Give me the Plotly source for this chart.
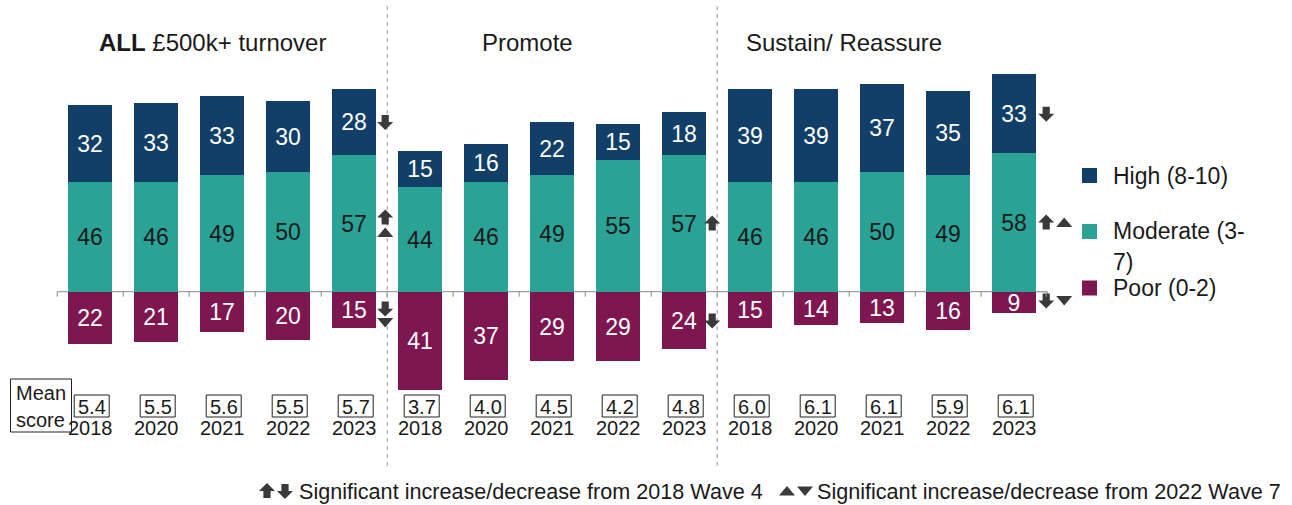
import plotly.graph_objects as go

# ---- data -------------------------------------------------------------
groups = ["ALL £500k+ turnover", "Promote", "Sustain/ Reassure"]
years = ["2018", "2020", "2021", "2022", "2023"] * 3

high = [32, 33, 33, 30, 28, 15, 16, 22, 15, 18, 39, 39, 37, 35, 33]
moderate = [46, 46, 49, 50, 57, 44, 46, 49, 55, 57, 46, 46, 50, 49, 58]
poor = [22, 21, 17, 20, 15, 41, 37, 29, 29, 24, 15, 14, 13, 16, 9]
mean_score = [5.4, 5.5, 5.6, 5.5, 5.7, 3.7, 4.0, 4.5, 4.2, 4.8,
              6.0, 6.1, 6.1, 5.9, 6.1]

# significance flags: (bar index, segment, marker kind)
# kind: "up18"/"down18" = vs 2018 Wave 4, "up22"/"down22" = vs 2022 Wave 7
significance = [
    (4, "high", "down18"), (4, "moderate", "up18"), (4, "moderate", "up22"),
    (4, "poor", "down18"), (4, "poor", "down22"),
    (9, "moderate", "up18"), (9, "poor", "down18"),
    (14, "high", "down18"), (14, "moderate", "up18"), (14, "moderate", "up22"),
    (14, "poor", "down18"), (14, "poor", "down22"),
]

# ---- style ------------------------------------------------------------
C_HIGH = "rgb(17,63,103)"
C_MOD = "rgb(42,162,150)"
C_POOR = "rgb(126,22,80)"
C_TEXT = "#1a1a1a"
C_ARROW = "#3a3a3a"
FONT = "Liberation Sans, Arial, sans-serif"

W, H = 1292, 505
X0_PX, X_STEP = 90.2, 66.0        # pixel centre of first bar, spacing
ZERO_PX, Y_STEP = 291.7, 2.39     # pixel row of zero line, px per point

x_range = [-X0_PX / X_STEP, (W - X0_PX) / X_STEP]
y_range = [-(H - ZERO_PX) / Y_STEP, ZERO_PX / Y_STEP]


def px(x):
    return x / W


def py(y):
    return 1 - y / H


def bar_px(i):
    return X0_PX + X_STEP * i


def val_py(v):
    return ZERO_PX - Y_STEP * v


def label(x, y, text, size, xanchor="center"):
    return dict(x=px(x), y=py(y), xref="paper", yref="paper", text=text,
                showarrow=False, xanchor=xanchor, yanchor="middle",
                font=dict(size=size, color=C_TEXT, family=FONT))


idx = list(range(len(years)))

fig = go.Figure()

bar_common = dict(width=0.67, textposition="inside", insidetextanchor="middle",
                  textangle=0, constraintext="none", hoverinfo="skip",
                  showlegend=False, marker_line_width=0)

fig.add_trace(go.Bar(x=idx, y=moderate, name="Moderate (3-7)", marker_color=C_MOD,
                     text=[str(v) for v in moderate],
                     textfont=dict(size=23, color=C_TEXT, family=FONT), **bar_common))
fig.add_trace(go.Bar(x=idx, y=high, name="High (8-10)", marker_color=C_HIGH,
                     text=[str(v) for v in high],
                     textfont=dict(size=23, color="white", family=FONT), **bar_common))
fig.add_trace(go.Bar(x=idx, y=[-v for v in poor], name="Poor (0-2)", marker_color=C_POOR,
                     text=[str(v) for v in poor],
                     textfont=dict(size=23, color="white", family=FONT), **bar_common))

shapes = []
annotations = []

# zero line with category tick marks
shapes.append(dict(type="line", xref="x", yref="y", x0=-0.5, x1=len(idx) - 0.5,
                   y0=0, y1=0, line=dict(color="#8c8c8c", width=1), layer="below"))
for k in range(len(idx) + 1):
    xk = bar_px(k - 0.5)
    shapes.append(dict(type="line", xref="paper", yref="paper",
                       x0=px(xk), x1=px(xk), y0=py(ZERO_PX), y1=py(ZERO_PX + 5),
                       line=dict(color="#8c8c8c", width=1)))

# group separators
for b in (4.5, 9.5):
    xb = bar_px(b)
    shapes.append(dict(type="line", xref="paper", yref="paper",
                       x0=px(xb), x1=px(xb), y0=py(6), y1=py(466),
                       line=dict(color="#9a9a9a", width=1, dash="4px,4px")))

# group titles
title_x = [212, 527, 844]
for t, gx in zip(groups, title_x):
    txt = t.replace("ALL", "<b>ALL</b>", 1)
    annotations.append(label(gx, 43, txt, 24))

# mean score boxes and year labels
shapes.append(dict(type="rect", xref="paper", yref="paper",
                   x0=px(10.5), x1=px(71.5), y0=py(379), y1=py(432),
                   line=dict(color="#222", width=1), fillcolor="white"))
annotations.append(label(41, 393, "Mean", 20))
annotations.append(label(40, 420, "score", 20))
for i, (m, yr) in enumerate(zip(mean_score, years)):
    cx = bar_px(i) + 1.5
    shapes.append(dict(type="rect", xref="paper", yref="paper",
                       x0=px(cx - 17.5), x1=px(cx + 17.5), y0=py(395), y1=py(417),
                       line=dict(color="#222", width=1), fillcolor="white"))
    annotations.append(label(cx, 406.5, f"{m:.1f}", 20))
    annotations.append(label(bar_px(i), 428, yr, 20))


def block_arrow(cx, cy, up=True, s=1.0):
    d = -1 if up else 1
    pts = [(0, 8 * d), (8, 0), (3.6, 0), (3.6, -7 * d), (-3.6, -7 * d), (-3.6, 0), (-8, 0)]
    pts = [(cx + x * s, cy + y * s) for x, y in pts]
    return "M " + " L ".join(f"{px(x):.6f},{py(y):.6f}" for x, y in pts) + " Z"


def triangle(cx, cy, up=True, s=1.0):
    d = -1 if up else 1
    pts = [(0, 5 * d), (8, -4.5 * d), (-8, -4.5 * d)]
    pts = [(cx + x * s, cy + y * s) for x, y in pts]
    return "M " + " L ".join(f"{px(x):.6f},{py(y):.6f}" for x, y in pts) + " Z"


def marker_shape(path):
    return dict(type="path", xref="paper", yref="paper", path=path,
                fillcolor=C_ARROW, line=dict(width=0))


# per-bar placement offsets (pixels) of the significance markers
x_off = {4: 31, 9: 28, 14: 32}
for i, seg, kind in significance:
    if seg == "high":
        mid = moderate[i] + high[i] / 2
    elif seg == "moderate":
        mid = moderate[i] / 2
    else:
        mid = -poor[i] / 2
    cx = bar_px(i) + x_off[i]
    cy = val_py(mid)
    if i == 4 and seg != "high":
        # narrow gap: stack the two markers vertically
        if seg == "moderate":
            cy += -6 if kind.endswith("18") else 9
        else:
            cy += -1 if kind.endswith("18") else 13
    else:
        if kind.endswith("22"):
            cx += 18
        if i == 14 and seg == "poor":
            cy -= 2
    up = kind.startswith("up")
    path = block_arrow(cx, cy, up) if kind.endswith("18") else triangle(cx, cy, up)
    shapes.append(marker_shape(path))

# leader line from the small poor segment to its markers
lx0 = bar_px(14) + 0.67 * X_STEP / 2
lx1 = bar_px(14) + 32
shapes.append(dict(type="path", xref="paper", yref="paper",
                   path=f"M {px(lx0)},{py(ZERO_PX)} L {px(lx1)},{py(ZERO_PX)} L {px(lx1)},{py(ZERO_PX + 5)}",
                   line=dict(color="#9a9a9a", width=1)))

# legend
legend_items = [("High (8-10)", C_HIGH, 175.5), ("Moderate (3-", C_MOD, 231.5),
                ("Poor (0-2)", C_POOR, 288)]
for text, col, yy in legend_items:
    shapes.append(dict(type="rect", xref="paper", yref="paper",
                       x0=px(1082), x1=px(1097), y0=py(yy - 7.5), y1=py(yy + 7.5),
                       fillcolor=col, line=dict(width=0)))
    annotations.append(label(1111, yy, text, 23, xanchor="left"))
annotations.append(label(1111, 262, "7)", 23, xanchor="left"))

# footnote
shapes.append(marker_shape(block_arrow(267, 491, True, 1.0)))
shapes.append(marker_shape(block_arrow(285, 491, False, 1.0)))
shapes.append(marker_shape(triangle(787, 491, True, 1.0)))
shapes.append(marker_shape(triangle(805, 491, False, 1.0)))
annotations.append(label(297, 491, "Significant increase/decrease from 2018 Wave 4", 21.6, "left"))
annotations.append(label(815, 491, "Significant increase/decrease from 2022 Wave 7", 21.6, "left"))

fig.update_layout(
    width=W, height=H, margin=dict(l=0, r=0, t=0, b=0),
    paper_bgcolor="white", plot_bgcolor="white",
    barmode="relative", bargap=0,
    xaxis=dict(range=x_range, visible=False, fixedrange=True),
    yaxis=dict(range=y_range, visible=False, fixedrange=True),
    shapes=shapes, annotations=annotations,
    font=dict(family=FONT, color=C_TEXT),
)

fig.write_html("out.html")
